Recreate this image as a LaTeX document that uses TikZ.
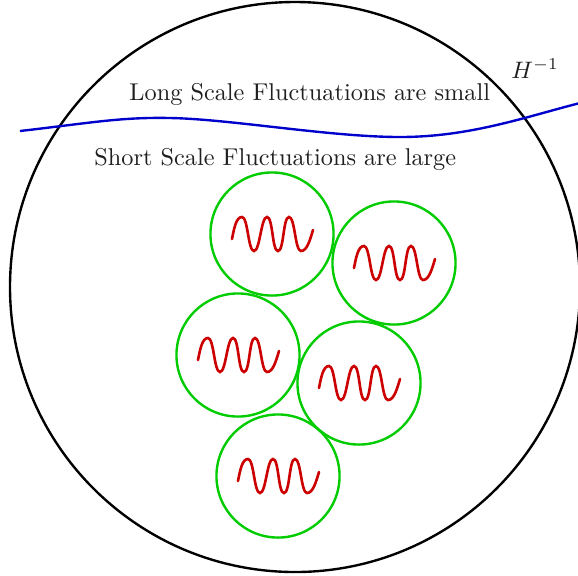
\documentclass[tikz,border=0pt]{standalone}
\usetikzlibrary{calc}
\definecolor{fgreen}{RGB}{0,204,0}
\definecolor{fred}{RGB}{204,0,0}
\definecolor{fblue}{RGB}{0,0,204}
\begin{document}
\begin{tikzpicture}[x=0.42pt,y=-0.42pt,
  bigcirc/.style={draw=black,line width=1pt},
  gcirc/.style={circle,draw=fgreen,line width=1pt,minimum size=51.7pt,inner sep=0pt},
  wig/.style={draw=fred,line width=1.1pt,line cap=round},
  hor/.style={draw=fblue,line width=1pt},
  lbl/.style={anchor=base west,inner sep=0pt,font=\fontsize{10.2}{12}\selectfont,text=black!88},
  wiggle/.pic={\path[wig] (-40,5) .. controls (-38,-5) and (-36,-17) .. (-30,-17)
      .. controls (-24,-17) and (-24,17) .. (-18,17)
      .. controls (-12,17) and (-11,-17) .. (-5,-17)
      .. controls (1,-17) and (0,17) .. (6,17)
      .. controls (12,17) and (11,-17) .. (17,-17)
      .. controls (23,-17) and (23,17) .. (29,17)
      .. controls (35,17) and (38,6) .. (41,-4);}
]
\useasboundingbox (0,0) rectangle (578,575);
\clip (0,0) rectangle (578,575);
\fill[white] (0,0) rectangle (578,575);
% Hubble sphere
\coordinate (hc) at (295,287);
\draw[bigcirc] (hc) circle[radius=285];
% horizon line
\coordinate (b0) at (20,131);
\coordinate (b1) at (170,118);
\coordinate (b2) at (400,137);
\coordinate (b3) at (580,103);
\draw[hor] (b0) .. controls (90,123) and (120,117) .. (b1)
  .. controls (230,119) and (330,137) .. (b2)
  .. controls (470,137) and (525,117) .. (b3);
% labels
\node[lbl] (long) at (129,100) {Long Scale Fluctuations are small};
\node[lbl] (short) at (94,165) {Short Scale Fluctuations are large};
\node[lbl] (hinv) at (511,78) {$H^{-1}$};
% small patches
\node[gcirc] (g1) at (272,234) {};
\node[gcirc] (g2) at (394,263) {};
\node[gcirc] (g3) at (238,355) {};
\node[gcirc] (g4) at (359,383) {};
\node[gcirc] (g5) at (278,476) {};
\pic at (g1) {wiggle};
\pic at (g2) {wiggle};
\pic at (g3) {wiggle};
\pic at (g4) {wiggle};
\pic at (g5) {wiggle};
\end{tikzpicture}
\end{document}
